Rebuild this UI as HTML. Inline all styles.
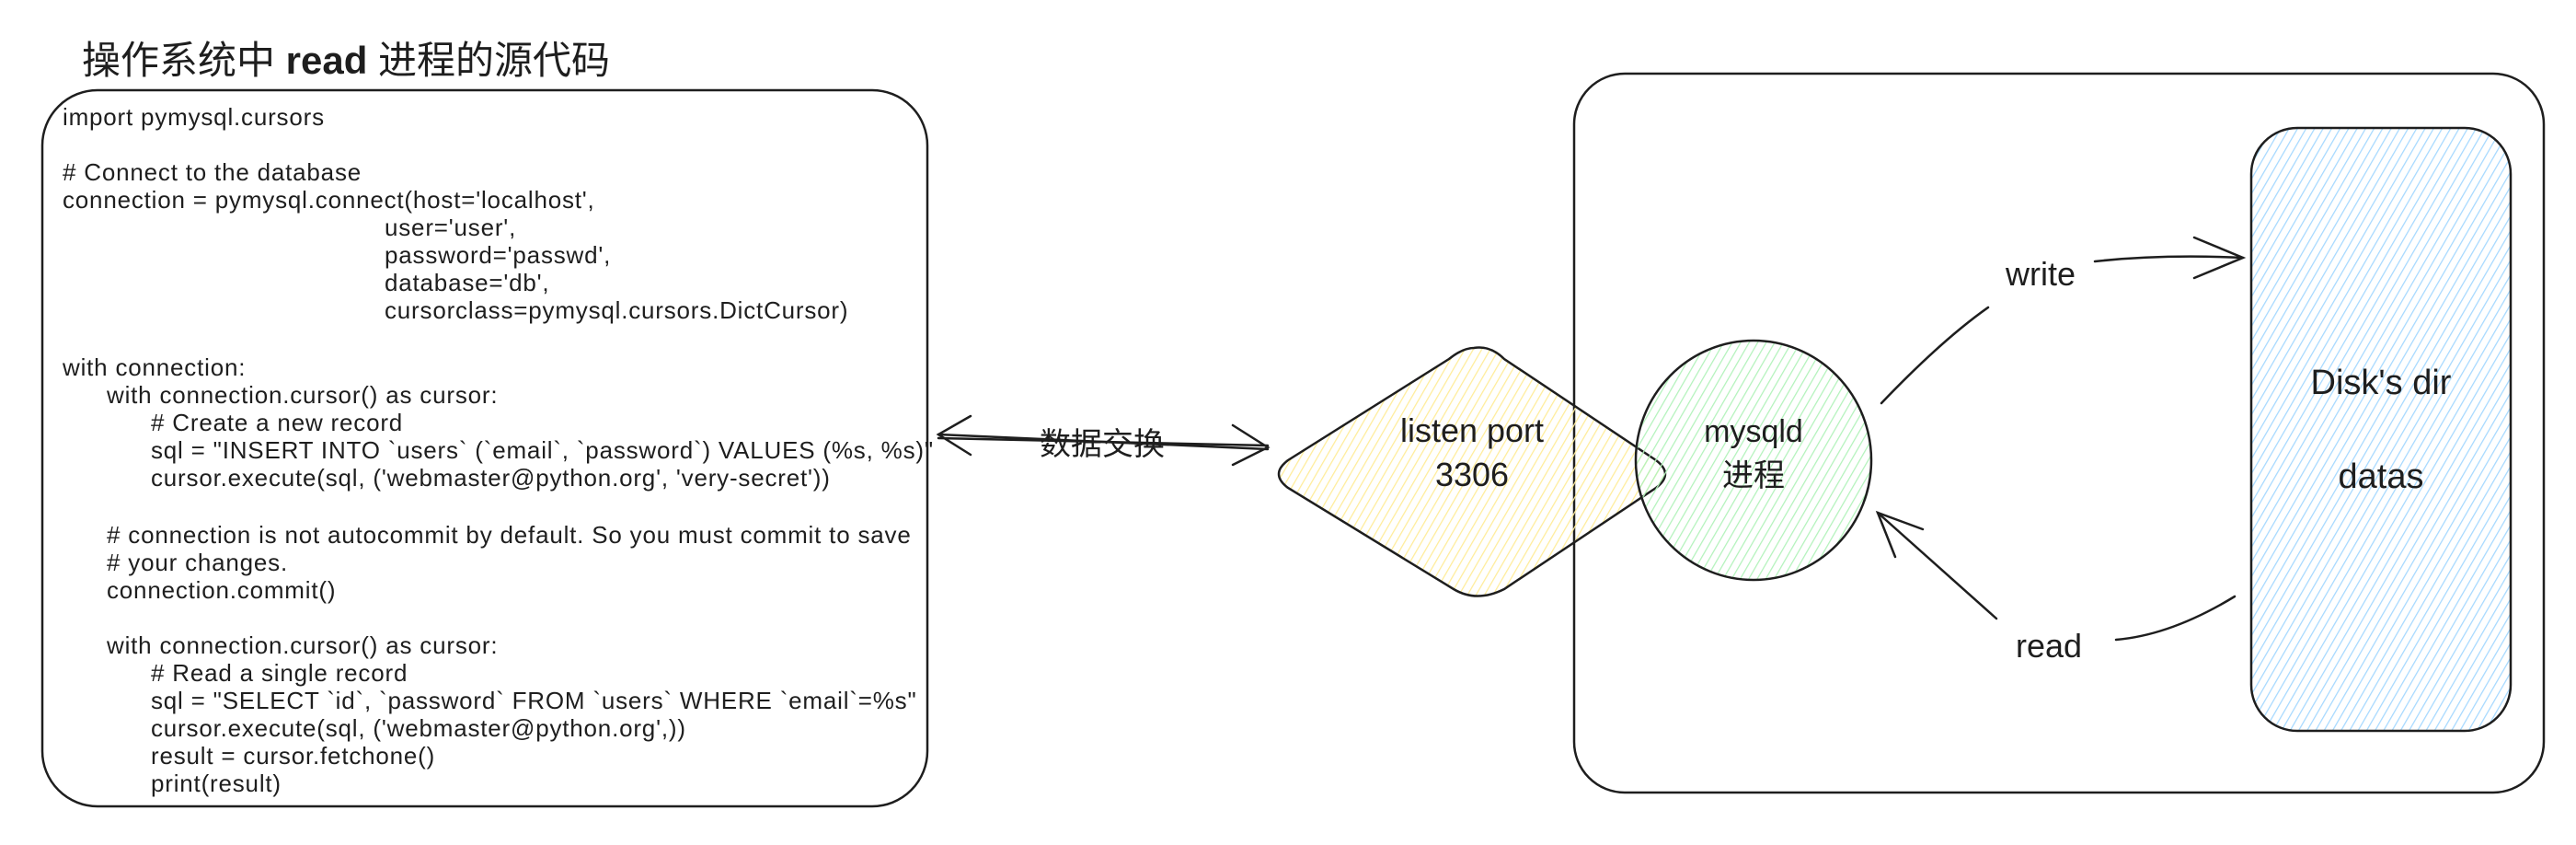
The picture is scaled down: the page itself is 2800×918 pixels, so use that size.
<!DOCTYPE html>
<html><head><meta charset="utf-8"><style>
body{margin:0;background:#fff;width:2800px;height:918px;overflow:hidden}
svg{display:block}
.c{font-family:"Liberation Sans","Noto Sans CJK SC",sans-serif;font-size:26px;letter-spacing:0.8px;fill:#1e1e1e}
.t{font-family:"Liberation Sans","Noto Sans CJK SC",sans-serif;fill:#1e1e1e}
</style></head><body>
<svg width="2800" height="918" viewBox="0 0 2800 918" xmlns="http://www.w3.org/2000/svg">
<defs>
<pattern id="hy" width="8" height="8" patternUnits="userSpaceOnUse" patternTransform="rotate(30)"><line x1="0" y1="0" x2="0" y2="8" stroke="#ffec99" stroke-width="2.5"/></pattern>
<pattern id="hg" width="8" height="8" patternUnits="userSpaceOnUse" patternTransform="rotate(30)"><line x1="0" y1="0" x2="0" y2="8" stroke="#b2f2bb" stroke-width="2.5"/></pattern>
<pattern id="hb" width="8" height="8" patternUnits="userSpaceOnUse" patternTransform="rotate(30)"><line x1="0" y1="0" x2="0" y2="8" stroke="#a5d8ff" stroke-width="2.5"/></pattern>
</defs>
<text class="t" x="89" y="80" font-size="42">操作系统中 <tspan font-weight="bold">read</tspan> 进程的源代码</text>
<rect x="46" y="98" width="962" height="778" rx="60" fill="none" stroke="#1e1e1e" stroke-width="2.5"/>
<g class="c">
<text x="68" y="136">import pymysql.cursors</text>
<text x="68" y="196"># Connect to the database</text>
<text x="68" y="226">connection = pymysql.connect(host='localhost',</text>
<text x="418" y="256">user='user',</text>
<text x="418" y="286">password='passwd',</text>
<text x="418" y="316">database='db',</text>
<text x="418" y="346">cursorclass=pymysql.cursors.DictCursor)</text>
<text x="68" y="408">with connection:</text>
<text x="116" y="438">with connection.cursor() as cursor:</text>
<text x="164" y="468"># Create a new record</text>
<text x="164" y="498">sql = "INSERT INTO `users` (`email`, `password`) VALUES (%s, %s)"</text>
<text x="164" y="528">cursor.execute(sql, ('webmaster@python.org', 'very-secret'))</text>
<text x="116" y="590"># connection is not autocommit by default. So you must commit to save</text>
<text x="116" y="620"># your changes.</text>
<text x="116" y="650">connection.commit()</text>
<text x="116" y="710">with connection.cursor() as cursor:</text>
<text x="164" y="740"># Read a single record</text>
<text x="164" y="770">sql = "SELECT `id`, `password` FROM `users` WHERE `email`=%s"</text>
<text x="164" y="800">cursor.execute(sql, ('webmaster@python.org',))</text>
<text x="164" y="830">result = cursor.fetchone()</text>
<text x="164" y="860">print(result)</text>
</g>
<rect x="1711" y="80" width="1054" height="781" rx="55" fill="none" stroke="#1e1e1e" stroke-width="2.5"/>
<rect x="2447" y="139" width="282" height="655" rx="50" fill="url(#hb)" stroke="#1e1e1e" stroke-width="2.5"/>
<text class="t" x="2588" y="428" font-size="38" text-anchor="middle">Disk's dir</text>
<text class="t" x="2588" y="530" font-size="38" text-anchor="middle">datas</text>
<path d="M1602 378 Q1620 375 1635 390 L1800 500 Q1820 515 1800 530 L1635 640 Q1605 655 1580 640 L1400 530 Q1380 515 1400 500 L1575 390 Q1590 378 1602 378Z" fill="url(#hy)" stroke="#1e1e1e" stroke-width="2.5"/>
<ellipse cx="1906" cy="500" rx="128" ry="130" fill="url(#hg)" stroke="#1e1e1e" stroke-width="2.5"/>
<text class="t" x="1600" y="480" font-size="36" text-anchor="middle">listen port</text>
<text class="t" x="1600" y="528" font-size="36" text-anchor="middle">3306</text>
<text class="t" x="1906" y="480" font-size="34" text-anchor="middle">mysqld</text>
<text class="t" x="1906" y="528" font-size="34" text-anchor="middle">进程</text>
<g stroke="#1e1e1e" stroke-width="2.5" fill="none" stroke-linecap="round">
<path d="M1020 472 L1378 488"/><path d="M1020 476 L1378 484"/>
<path d="M1055 452 L1020 472 L1055 494"/><path d="M1340 462 L1378 486 L1340 505"/>
<path d="M2045 438 Q2110 370 2161 334"/>
<path d="M2277 284 Q2350 276 2438 280"/><path d="M2385 258 L2438 280 L2385 302"/>
<path d="M2429 648 Q2360 690 2300 695"/>
<path d="M2170 672 L2041 557"/><path d="M2060 605 L2041 557 L2090 575"/>
</g>
<text class="t" x="1198" y="494" font-size="34" text-anchor="middle">数据交换</text>
<text class="t" x="2218" y="310" font-size="36" text-anchor="middle">write</text>
<text class="t" x="2227" y="714" font-size="36" text-anchor="middle">read</text>
</svg>
</body></html>
